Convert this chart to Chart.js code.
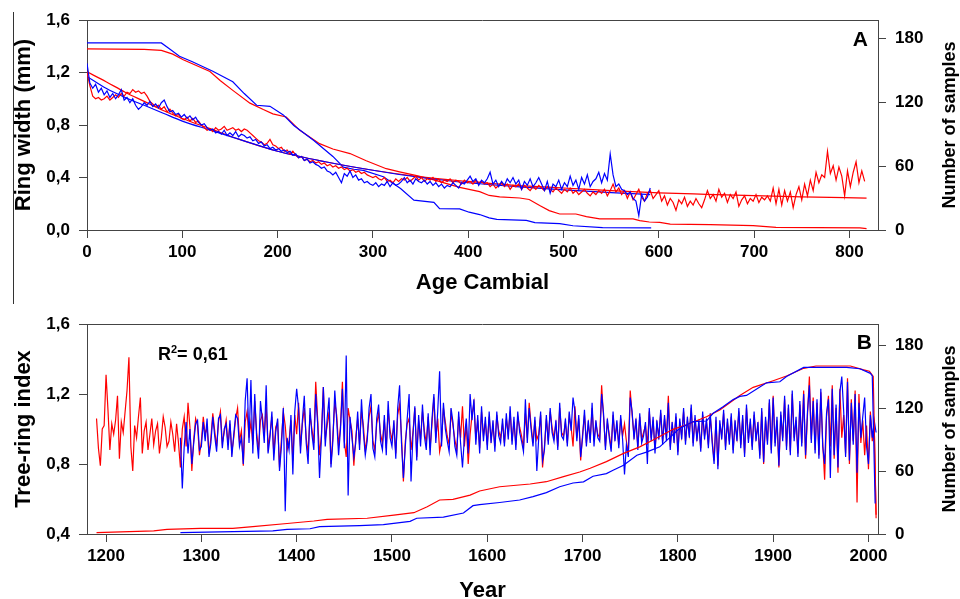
<!DOCTYPE html>
<html>
<head>
<meta charset="utf-8">
<script src="https://cdn.jsdelivr.net/npm/chart.js@4.4.1/dist/chart.umd.min.js"></script>
<style>
html, body { margin: 0; padding: 0; background: #fff; overflow: hidden; width: 960px; height: 599px; }
#chartA { position: absolute; left: 0; top: 0; }
#chartB { position: absolute; left: 0; top: 300px; }
#edge { position: absolute; left: 13px; top: 12px; width: 1px; height: 292px; background: #333; }
</style>
</head>
<body>
<canvas id="chartA" width="960" height="300"></canvas>
<canvas id="chartB" width="960" height="308"></canvas>
<div id="edge"></div>
<script>
// ---- Panel A : ring width by cambial age (3-year grid) ----
var ageStartA = 0;
var ageStepA = 3;
var ringRedA = [
    1.20, 1.10, 1.02, 1.00, 1.01, 0.99, 1.00, 1.02, 0.99, 1.01,
    1.03, 1.01, 1.04, 1.02, 1.05, 1.04, 1.07, 1.05, 1.06, 1.04,
    1.05, 1.02, 0.98, 0.96, 0.94, 0.95, 0.92, 0.94, 0.90, 0.92,
    0.89, 0.87, 0.88, 0.85, 0.84, 0.86, 0.83, 0.85, 0.82, 0.83,
    0.80, 0.78, 0.76, 0.77, 0.75, 0.78, 0.76, 0.77, 0.79, 0.76,
    0.77, 0.78, 0.76, 0.77, 0.75, 0.77, 0.76, 0.74, 0.72, 0.70,
    0.68, 0.67, 0.65, 0.66, 0.69, 0.65, 0.64, 0.62, 0.63, 0.60,
    0.61, 0.58, 0.60, 0.57, 0.55, 0.56, 0.53, 0.54, 0.52, 0.53,
    0.51, 0.52, 0.50, 0.51, 0.49, 0.50, 0.48, 0.49, 0.47, 0.48,
    0.46, 0.47, 0.45, 0.46, 0.44, 0.45, 0.43, 0.44, 0.42, 0.41,
    0.40, 0.41, 0.39, 0.38, 0.40, 0.37, 0.38, 0.36, 0.39, 0.37,
    0.39, 0.38, 0.40, 0.37, 0.39, 0.41, 0.38, 0.40, 0.37, 0.39,
    0.38, 0.40, 0.37, 0.39, 0.36, 0.38, 0.37, 0.39, 0.36, 0.38,
    0.37, 0.35, 0.38, 0.36, 0.37, 0.35, 0.38, 0.36, 0.37, 0.35,
    0.36, 0.33, 0.35, 0.32, 0.34, 0.36, 0.33, 0.35, 0.31, 0.34,
    0.33, 0.35, 0.31, 0.34, 0.32, 0.30, 0.33, 0.31, 0.34, 0.32,
    0.30, 0.33, 0.31, 0.29, 0.32, 0.30, 0.28, 0.31, 0.29, 0.32,
    0.28, 0.30, 0.27, 0.29, 0.31, 0.28, 0.26, 0.29, 0.27, 0.30,
    0.28, 0.31, 0.26, 0.30, 0.35, 0.29, 0.32, 0.27, 0.30, 0.24,
    0.29, 0.23, 0.27, 0.31, 0.25, 0.22, 0.28, 0.30, 0.24, 0.27,
    0.30, 0.22, 0.26, 0.19, 0.24, 0.21, 0.15, 0.23, 0.20, 0.25,
    0.18, 0.22, 0.19, 0.24, 0.20, 0.17, 0.23, 0.30, 0.24, 0.27,
    0.22, 0.31, 0.25, 0.28, 0.21, 0.27, 0.24, 0.29, 0.18, 0.23,
    0.26, 0.20, 0.24, 0.22, 0.27, 0.21, 0.25, 0.23, 0.26, 0.22,
    0.32, 0.20, 0.31, 0.19, 0.30, 0.22, 0.29, 0.17, 0.27, 0.33,
    0.23, 0.35, 0.26, 0.38, 0.30, 0.44, 0.36, 0.42, 0.40, 0.60,
    0.43, 0.49, 0.38, 0.48, 0.41, 0.26, 0.45, 0.33, 0.44, 0.52,
    0.36, 0.45, 0.37
];
var ringBlueA = [
    1.27, 1.12, 1.08, 1.11, 1.05, 1.08, 1.03, 1.06, 1.01, 1.04,
    1.00, 1.03, 1.07, 0.99, 1.01, 0.97, 1.00, 0.95, 0.92, 0.94,
    0.97, 0.95, 0.98, 0.94, 0.96, 0.93, 0.97, 0.99, 0.94, 0.90,
    0.91, 0.88, 0.89, 0.86, 0.88, 0.85, 0.87, 0.84, 0.86, 0.82,
    0.80, 0.81, 0.78, 0.76, 0.77, 0.74, 0.75, 0.73, 0.76, 0.72,
    0.74, 0.72, 0.75, 0.71, 0.73, 0.72, 0.70, 0.71, 0.68, 0.69,
    0.66, 0.67, 0.64, 0.65, 0.62, 0.63, 0.61, 0.62, 0.60, 0.61,
    0.59, 0.60, 0.57, 0.58, 0.55, 0.56, 0.53, 0.54, 0.51, 0.52,
    0.50, 0.49, 0.47, 0.48, 0.45, 0.44, 0.42, 0.44, 0.40, 0.36,
    0.43, 0.41, 0.45, 0.40, 0.42, 0.38, 0.39, 0.36, 0.37, 0.35,
    0.34, 0.36, 0.33, 0.35, 0.34, 0.37, 0.33, 0.36, 0.34, 0.35,
    0.37, 0.40, 0.36, 0.38, 0.35, 0.39, 0.37, 0.36, 0.38, 0.35,
    0.37, 0.34, 0.36, 0.33, 0.35, 0.32, 0.34, 0.33, 0.36, 0.34,
    0.32, 0.36, 0.35, 0.38, 0.41, 0.37, 0.39, 0.34, 0.38, 0.36,
    0.39, 0.44, 0.35, 0.38, 0.33, 0.37, 0.34, 0.39, 0.36, 0.40,
    0.35, 0.38, 0.31, 0.37, 0.34, 0.39, 0.33, 0.36, 0.40, 0.35,
    0.30, 0.37, 0.28, 0.35, 0.33, 0.38, 0.31, 0.36, 0.33, 0.41,
    0.34, 0.38, 0.31, 0.40, 0.35, 0.42, 0.33, 0.37, 0.39, 0.44,
    0.36, 0.43, 0.38, 0.58, 0.42, 0.33, 0.35, 0.31, 0.30, 0.27,
    0.29, 0.24, 0.22, 0.11, 0.27, 0.22, 0.25, 0.32
];

// fitted growth curves (age, mm)
var fitRedAge = [0, 20, 40, 60, 80, 100, 130, 160, 200, 250, 300, 350, 400, 450, 500, 550, 600, 650, 700, 750, 818];
var fitRedVal = [1.205, 1.13, 1.05, 0.98, 0.91, 0.85, 0.77, 0.69, 0.60, 0.52, 0.455, 0.405, 0.37, 0.34, 0.32, 0.30, 0.283, 0.272, 0.262, 0.253, 0.243];
var fitBlueAge = [0, 20, 40, 60, 80, 100, 130, 160, 200, 250, 300, 350, 400, 450, 500, 550, 591];
var fitBlueVal = [1.17, 1.08, 1.01, 0.95, 0.89, 0.83, 0.76, 0.69, 0.60, 0.52, 0.455, 0.40, 0.36, 0.33, 0.305, 0.285, 0.27];

// number of samples (age, n)
var nRedAgeA = [0, 60, 78, 90, 101, 129, 140, 153, 171, 185, 195, 209, 223, 244, 258, 276, 293, 314, 328, 346, 364, 391, 412, 422, 433, 454, 464, 475, 485, 496, 513, 524, 538, 573, 580, 590, 601, 612, 654, 699, 723, 811, 818];
var nRedA = [170, 169.5, 168.5, 165, 159.7, 148.7, 140, 131, 119, 113, 109, 106, 93.7, 81, 76, 71.7, 65, 57.5, 54.5, 51, 47, 40, 36, 32.4, 31, 30, 28.6, 23, 18.2, 15, 15, 12.5, 10.4, 10.4, 8.8, 7.5, 7.2, 5.6, 5, 4.1, 2.5, 2, 1.3];
var nBlueAgeA = [0, 78, 85, 97, 110, 132, 153, 165, 178, 192, 206, 217, 238, 258, 269, 280, 290, 311, 329, 343, 364, 370, 391, 401, 412, 422, 430, 461, 470, 496, 510, 541, 592];
var nBlueA = [175.5, 175.5, 171, 163, 158, 149, 139, 128, 117, 116, 108, 98, 84, 69, 59, 57, 56, 50, 39, 28, 26, 20, 19.8, 16.7, 14.5, 11.4, 10, 9, 7, 6, 4, 2.2, 2];

var xTicksA = [0, 100, 200, 300, 400, 500, 600, 700, 800];
var yTicksA = [0, 0.4, 0.8, 1.2, 1.6];
var nTicks = [0, 60, 120, 180];

// ---- Panel B : tree-ring index by year (2-year grid) ----
var yearStartRed = 1190;
var yearStartBlue = 1278;
var yearStepB = 2;
// 20 years per row, from 1190
var indexRedB = [
    1.06, 0.89, 0.79, 1.00, 1.02, 1.31, 1.11, 0.88, 1.03, 0.97,
    1.05, 1.19, 0.83, 1.04, 0.98, 1.10, 1.22, 1.41, 0.90, 0.76,
    1.02, 0.95, 1.07, 1.18, 0.86, 0.99, 1.04, 0.88, 0.97, 1.06,
    0.91, 0.99, 1.03, 0.86, 0.95, 1.07, 1.01, 0.90, 0.93, 1.04,
    0.97, 0.87, 1.03, 0.92, 0.78, 1.00, 1.07, 0.90, 1.15, 1.01,
    0.76, 0.94, 1.06, 1.02, 0.85, 0.93, 1.07, 0.97, 1.01, 0.86,
    0.95, 1.09, 0.99, 0.90, 1.04, 1.10, 0.92, 0.98, 1.05, 0.91,
    1.03, 0.87, 0.95, 1.06, 1.12, 0.93, 0.99, 0.79, 1.04, 1.10,
    0.95, 1.04, 0.91, 1.16, 0.98, 0.88, 1.05, 1.08, 0.96, 1.13,
    0.90, 0.97, 1.07, 0.86, 1.01, 1.04, 0.78, 0.94, 1.10, 1.02,
    0.88, 0.93, 1.05, 0.82, 1.08, 0.97, 1.15, 0.90, 1.03, 1.12,
    0.95, 0.86, 1.08, 1.00, 0.92, 1.27, 1.06, 0.85, 0.97, 1.24,
    0.94, 1.02, 1.10, 0.80, 0.96, 1.15, 1.08, 0.90, 1.02, 1.27,
    0.93, 0.84, 1.12, 1.05, 0.99, 0.79, 0.95, 1.06, 0.91, 1.10,
    1.02, 0.87, 0.96, 1.07, 1.13, 0.93, 0.88, 1.03, 1.09, 0.97,
    0.92, 1.05, 0.89, 1.11, 0.99, 0.94, 1.02, 0.86, 1.08, 1.14,
    0.96, 0.70, 0.93, 1.03, 1.06, 0.88, 0.98, 1.12, 0.84, 1.05,
    0.94, 1.10, 0.99, 0.92, 1.07, 0.89, 1.03, 1.18, 0.95, 1.06,
    0.87, 0.93, 1.12, 1.04, 0.96, 0.91, 1.09, 1.02, 0.94, 0.88,
    1.07, 0.95, 1.13, 0.90, 1.03, 0.80, 0.97, 1.08, 1.15, 0.94,
    1.05, 0.89, 1.10, 0.96, 1.04, 0.91, 1.07, 0.94, 1.02, 0.90,
    1.08, 0.99, 0.95, 1.03, 0.92, 1.06, 0.97, 1.10, 0.93, 1.04,
    0.91, 1.07, 1.01, 0.96, 0.89, 1.09, 0.95, 1.15, 1.02, 0.92,
    1.05, 0.94, 0.97, 1.08, 0.78, 0.90, 1.06, 0.93, 1.10, 1.01,
    0.95, 1.03, 0.90, 1.12, 0.98, 0.96, 1.04, 0.92, 1.07, 1.01,
    0.90, 1.13, 0.95, 1.06, 0.82, 0.97, 1.08, 0.92, 1.03, 0.94,
    1.12, 0.93, 1.03, 0.97, 0.95, 1.25, 1.07, 0.90, 1.04, 0.97,
    0.89, 1.08, 0.95, 1.02, 0.91, 1.06, 0.96, 1.03, 0.93, 0.86,
    1.22, 1.08, 0.96, 1.04, 0.90, 1.07, 0.94, 0.98, 1.02, 0.91,
    1.10, 0.95, 1.05, 0.88, 1.03, 0.96, 1.09, 0.93, 1.06, 0.95,
    1.19, 0.90, 1.02, 0.94, 1.07, 0.87, 1.04, 0.96, 1.10, 0.93,
    1.05, 0.97, 1.12, 0.92, 1.06, 0.95, 1.03, 0.89, 1.08, 0.96,
    1.04, 0.91, 1.07, 0.94, 0.82, 1.05, 0.79, 1.03, 0.96, 1.09,
    0.90, 1.04, 0.93, 1.07, 0.88, 1.03, 0.95, 1.10, 0.91, 1.06,
    0.86, 1.12, 0.94, 1.04, 0.90, 1.08, 0.95, 1.02, 0.85, 1.10,
    0.80, 1.05, 0.93, 1.15, 0.88, 1.19, 0.92, 1.05, 0.78, 1.08,
    0.95, 1.17, 0.90, 1.12, 0.87, 1.20, 0.95, 1.05, 0.86, 1.14,
    0.92, 1.22, 0.83, 1.08, 1.30, 0.94, 1.18, 0.88, 1.15, 0.85,
    1.21, 0.92, 0.71, 1.07, 1.19, 0.90, 1.25, 0.83, 1.12, 0.75,
    1.23, 0.95, 1.08, 0.86, 1.29, 0.80, 1.17, 0.93, 1.22, 0.58,
    1.20, 0.92, 1.05, 0.85, 1.02, 0.77, 1.10, 0.93, 1.03, 0.51
];
// 1278, 1280-1288, then 20 years per row from 1290
var indexBlueB = [
    0.95,
    0.66, 0.90, 1.04, 0.86, 1.00,
    0.80, 0.92, 1.03, 1.05, 0.88, 0.90, 1.04, 0.93, 1.06, 0.84,
    0.92, 1.07, 0.96, 0.87, 1.06, 1.08, 0.89, 1.00, 1.03, 0.88,
    1.05, 0.84, 0.97, 1.08, 1.06, 0.90, 0.95, 0.80, 1.16, 1.29,
    0.92, 1.28, 0.86, 1.20, 0.95, 0.83, 1.16, 1.05, 0.92, 1.25,
    0.86, 0.95, 1.10, 0.82, 0.98, 1.06, 0.76, 0.90, 1.12, 0.53,
    0.95, 0.88, 1.08, 0.74, 1.10, 1.23, 1.12, 0.86, 1.05, 1.19,
    0.92, 0.80, 1.12, 0.97, 0.88, 1.20, 1.03, 0.72, 0.95, 1.24,
    0.90, 1.06, 1.18, 0.78, 0.93, 1.22, 1.05, 0.85, 1.00, 1.23,
    0.89, 1.42, 0.62, 1.07, 0.95, 0.84, 0.92, 1.10, 0.88, 1.17,
    0.98, 0.85, 0.93, 1.12, 1.20, 0.89, 0.84, 1.06, 1.14, 0.93,
    0.88, 1.08, 0.85, 1.16, 0.95, 0.90, 1.05, 0.83, 1.12, 1.25,
    0.92, 0.72, 0.90, 1.06, 1.20, 0.70, 0.96, 1.13, 0.82, 1.08,
    0.90, 1.14, 0.96, 0.88, 1.09, 0.85, 1.06, 1.20, 0.92, 1.10,
    1.33, 0.90, 1.15, 1.00, 0.93, 0.87, 1.12, 1.04, 0.90, 0.85,
    1.10, 0.92, 0.78, 0.95, 1.06, 0.86, 1.20, 1.05, 1.17, 0.91,
    1.08, 0.86, 1.13, 0.93, 1.07, 0.88, 1.10, 0.92, 1.05, 0.87,
    1.10, 0.96, 0.92, 1.06, 0.90, 1.09, 0.94, 1.13, 0.91, 1.07,
    0.88, 1.10, 0.98, 0.93, 0.87, 1.17, 0.92, 1.12, 1.00, 0.90,
    1.07, 0.76, 0.95, 1.10, 0.82, 0.88, 1.08, 0.91, 1.12, 0.98,
    0.93, 1.05, 0.88, 1.15, 0.96, 0.94, 1.06, 0.90, 1.10, 0.99,
    1.18, 1.10, 0.93, 1.08, 0.84, 0.95, 1.11, 0.90, 1.05, 0.92,
    1.15, 0.90, 1.05, 0.95, 0.93, 1.20, 1.09, 0.88, 1.06, 0.95,
    0.87, 1.10, 0.93, 1.05, 0.89, 1.08, 0.94, 0.74, 0.91, 0.84,
    1.18, 1.10, 0.94, 1.06, 0.88, 1.09, 0.92, 0.96, 1.04, 0.80,
    1.12, 0.93, 1.07, 0.86, 1.05, 0.94, 1.11, 0.91, 1.08, 0.93,
    1.15, 0.88, 1.04, 0.92, 1.09, 0.85, 1.06, 0.94, 1.12, 0.91,
    1.07, 0.95, 1.14, 0.90, 1.08, 0.93, 1.05, 0.87, 1.10, 0.94,
    1.06, 0.89, 1.09, 0.92, 0.80, 1.07, 0.77, 1.05, 0.94, 1.11,
    0.88, 1.06, 0.91, 1.09, 0.86, 1.05, 0.93, 1.12, 0.89, 1.08,
    0.84, 1.14, 0.92, 1.06, 0.88, 1.10, 0.93, 1.04, 0.83, 1.12,
    0.81, 1.07, 0.91, 1.17, 0.86, 1.18, 0.90, 1.07, 0.79, 1.10,
    0.93, 1.19, 0.88, 1.14, 0.85, 1.22, 0.93, 1.07, 0.84, 1.16,
    0.90, 1.20, 0.85, 1.10, 1.25, 0.92, 1.16, 0.86, 1.17, 0.83,
    1.23, 0.90, 0.80, 1.09, 1.17, 0.72, 1.23, 0.85, 1.14, 0.78,
    1.21, 1.30, 1.10, 0.84, 1.27, 0.82, 1.15, 0.91, 1.20, 0.75,
    1.15, 0.95, 1.07, 1.18, 0.90, 0.80, 1.08, 0.95, 1.05, 0.98
];

// number of samples (year, n)
var nRedYearB = [1190, 1250, 1264, 1299, 1333, 1354, 1390, 1418, 1432, 1474, 1502, 1523, 1537, 1550, 1564, 1582, 1592, 1613, 1645, 1662, 1680, 1697, 1708, 1725, 1743, 1760, 1774, 1795, 1809, 1830, 1844, 1865, 1879, 1900, 1914, 1932, 1945, 1981, 1994, 2001, 2005, 2008];
var nRedB = [1.3, 2.9, 4.4, 5.4, 5.4, 7, 10, 12.4, 14, 15, 18, 20.3, 26, 32.4, 33, 37, 41, 45, 47.6, 49.8, 54.6, 59, 62.6, 68.9, 76.8, 83, 89.5, 99.7, 104, 111.7, 118, 132, 139.7, 146, 150.5, 157.8, 160, 160, 156.6, 155, 150, 15];
var nBlueYearB = [1278, 1375, 1390, 1414, 1424, 1466, 1491, 1519, 1526, 1554, 1575, 1585, 1592, 1613, 1634, 1648, 1662, 1676, 1690, 1701, 1711, 1725, 1732, 1743, 1757, 1767, 1781, 1802, 1816, 1830, 1837, 1847, 1858, 1865, 1872, 1886, 1893, 1907, 1914, 1932, 1977, 1991, 2002, 2004, 2007];
var nBlueB = [1.3, 2.9, 4.4, 5, 7, 8, 9, 12, 15, 16, 20, 27, 28, 30, 32.4, 35.6, 39.4, 45, 48.6, 49.7, 55, 57.5, 60.7, 65.4, 75, 78, 83, 100.6, 107, 107.6, 115, 121, 128, 131, 132, 140, 144, 145, 150, 158.7, 158.7, 157.4, 153, 150.5, 29];

var xTicksB = [1200, 1300, 1400, 1500, 1600, 1700, 1800, 1900, 2000];
var yTicksB = [0.4, 0.8, 1.2, 1.6];

var RED = '#ff0000';
var BLUE = '#0000ff';
var AXIS = '#444444';
var FONT = '"Liberation Sans", Arial, Helvetica, sans-serif';

Chart.defaults.font.family = FONT;
Chart.defaults.color = '#000';

// Gộp mảng giá trị với lưới năm / tuổi đều
function gridPoints(start, step, values) {
    return values.map(function (v, i) { return { x: start + i * step, y: v }; });
}

function pairPoints(xs, ys) {
    return xs.map(function (x, i) { return { x: x, y: ys[i] }; });
}

function line(data, color, axis, extra) {
    var ds = {
        data: data,
        borderColor: color,
        borderWidth: 1.2,
        pointRadius: 0,
        fill: false,
        tension: 0,
        yAxisID: axis
    };
    return Object.assign(ds, extra || {});
}

function fixedTicks(list) {
    return function (scale) {
        scale.ticks = list.map(function (v) { return { value: v }; });
    };
}

function commaLabel(v) {
    return v.toFixed(1).replace('.', ',');
}

function plainLabel(v) {
    return String(v);
}

function baseAxis() {
    return {
        grid: { display: true, drawOnChartArea: false, drawTicks: true, tickLength: 8, color: AXIS, lineWidth: 1 },
        border: { display: true, color: AXIS, width: 1 },
        ticks: { font: { size: 17, weight: 'bold' }, color: '#000', padding: 9 }
    };
}

// Chữ bổ sung: ký hiệu panel, tiêu đề trục phải, R²
var panelText = {
    id: 'panelText',
    afterDraw: function (chart, args, opts) {
        var ctx = chart.ctx;
        var area = chart.chartArea;
        ctx.save();
        // khung trên
        ctx.strokeStyle = AXIS;
        ctx.lineWidth = 1;
        ctx.beginPath();
        ctx.moveTo(Math.round(area.left) - 0.5, Math.round(area.top) + 0.5);
        ctx.lineTo(Math.round(area.right) + 0.5, Math.round(area.top) + 0.5);
        ctx.stroke();

        ctx.fillStyle = '#000';
        ctx.font = 'bold 21px ' + FONT;
        ctx.textAlign = 'right';
        ctx.textBaseline = 'middle';
        ctx.fillText(opts.letter, area.right - opts.letterDx, area.top + opts.letterDy);

        if (opts.r2) {
            ctx.textAlign = 'left';
            ctx.textBaseline = 'alphabetic';
            ctx.font = 'bold 18px ' + FONT;
            var x = opts.r2x;
            var y = opts.r2y;
            ctx.fillText('R', x, y);
            x += ctx.measureText('R').width;
            ctx.font = 'bold 11px ' + FONT;
            ctx.fillText('2', x, y - 7);
            x += ctx.measureText('2').width;
            ctx.font = 'bold 18px ' + FONT;
            ctx.fillText('= 0,61', x, y);
        }

        ctx.font = 'bold 18px ' + FONT;
        ctx.textAlign = 'center';
        ctx.textBaseline = 'middle';
        ctx.translate(950, (area.top + area.bottom) / 2);
        ctx.rotate(-Math.PI / 2);
        ctx.fillText('Number of samples', 0, 0);
        ctx.restore();
    }
};

function buildChart(id, cfg) {
    var xAxis = baseAxis();
    xAxis.type = 'linear';
    xAxis.position = 'bottom';
    xAxis.min = cfg.xMin;
    xAxis.max = cfg.xMax;
    xAxis.ticks.padding = 4;
    xAxis.ticks.callback = plainLabel;
    xAxis.afterBuildTicks = fixedTicks(cfg.xTicks);
    xAxis.afterFit = function (scale) { scale.height = cfg.xHeight; };
    xAxis.title = { display: true, text: cfg.xTitle, font: { size: 22, weight: 'bold' }, color: '#000', padding: { top: 0, bottom: 4 } };

    var yAxis = baseAxis();
    yAxis.type = 'linear';
    yAxis.position = 'left';
    yAxis.min = cfg.yMin;
    yAxis.max = cfg.yMax;
    yAxis.afterBuildTicks = fixedTicks(cfg.yTicks);
    yAxis.ticks.callback = commaLabel;
    yAxis.afterFit = function (scale) { scale.width = 80; };
    yAxis.title = { display: true, text: cfg.yTitle, font: { size: 22, weight: 'bold' }, color: '#000', padding: { top: 4, bottom: 0 } };

    var nAxis = baseAxis();
    nAxis.type = 'linear';
    nAxis.position = 'right';
    nAxis.min = 0;
    nAxis.max = cfg.nMax;
    nAxis.afterBuildTicks = fixedTicks(nTicks);
    nAxis.ticks.callback = plainLabel;
    nAxis.afterFit = function (scale) { scale.width = 82; };

    return new Chart(document.getElementById(id).getContext('2d'), {
        type: 'line',
        data: { datasets: cfg.datasets },
        options: {
            responsive: false,
            animation: false,
            devicePixelRatio: 1,
            layout: { padding: { left: 7, top: cfg.top, right: 0, bottom: 0 } },
            plugins: {
                legend: { display: false },
                tooltip: { enabled: false },
                panelText: cfg.text
            },
            scales: { x: xAxis, y: yAxis, n: nAxis }
        },
        plugins: [panelText]
    });
}

// Panel A
buildChart('chartA', {
    xMin: 0, xMax: 830, xTicks: xTicksA, xHeight: 70, xTitle: 'Age Cambial',
    yMin: 0, yMax: 1.6, yTicks: yTicksA, yTitle: 'Ring width (mm)',
    nMax: 197, top: 20,
    text: { letter: 'A', letterDx: 10, letterDy: 20 },
    datasets: [
        line(gridPoints(ageStartA, ageStepA, ringBlueA), BLUE, 'y'),
        line(gridPoints(ageStartA, ageStepA, ringRedA), RED, 'y'),
        line(pairPoints(fitBlueAge, fitBlueVal), BLUE, 'y', { cubicInterpolationMode: 'monotone' }),
        line(pairPoints(fitRedAge, fitRedVal), RED, 'y', { cubicInterpolationMode: 'monotone' }),
        line(pairPoints(nBlueAgeA, nBlueA), BLUE, 'n'),
        line(pairPoints(nRedAgeA, nRedA), RED, 'n')
    ]
});

// Panel B
buildChart('chartB', {
    xMin: 1180, xMax: 2010, xTicks: xTicksB, xHeight: 74, xTitle: 'Year',
    yMin: 0.4, yMax: 1.6, yTicks: yTicksB, yTitle: 'Tree-ring index',
    nMax: 200, top: 24,
    text: { letter: 'B', letterDx: 6, letterDy: 19, r2: true, r2x: 158, r2y: 60 },
    datasets: [
        line(pairPoints(nBlueYearB, nBlueB), BLUE, 'n'),
        line(pairPoints(nRedYearB, nRedB), RED, 'n'),
        line(gridPoints(yearStartBlue, yearStepB, indexBlueB), BLUE, 'y'),
        line(gridPoints(yearStartRed, yearStepB, indexRedB), RED, 'y')
    ]
});
</script>
</body>
</html>
